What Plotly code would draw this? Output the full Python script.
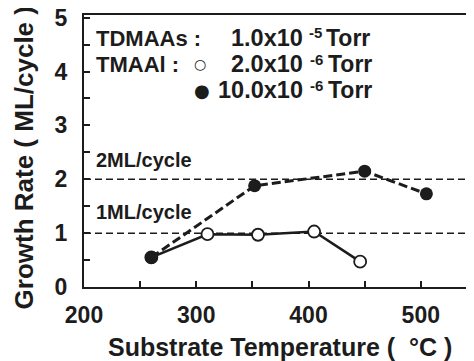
import plotly.graph_objects as go

# ---- data ----
temp_low = [260, 310, 355, 405, 446]          # TMAAl 2.0e-6 Torr (open circles)
rate_low = [0.55, 0.98, 0.97, 1.03, 0.47]
temp_high = [260, 352, 450, 505]              # TMAAl 10.0e-6 Torr (filled circles)
rate_high = [0.55, 1.88, 2.15, 1.73]
ref_levels = [1, 2]
ref_labels = ["1ML/cycle", "2ML/cycle"]
x_ticks = [200, 300, 400, 500]
y_ticks = [0, 1, 2, 3, 4, 5]

FONT = "Liberation Sans, Arial, sans-serif"
INK = "#1c1c1c"

OFF = 8  # page body offset in the screenshot
W, H = 474, 361
SL, ST, SB = 83.5, 15, 287.3           # plot edges in screenshot pixels
L, T = SL - OFF, ST - OFF
B = H - (SB - OFF)
R = 0
PW, PH = W - L - R, H - T - B
XSCALE = 112.4 / 100                    # px per degree


def px(sx):
    return (sx - SL) / PW


def py(sy):
    return (SB - sy) / PH


fig = go.Figure()

fig.add_trace(go.Scatter(
    x=temp_low, y=rate_low, mode="lines+markers",
    line=dict(color=INK, width=2.6),
    marker=dict(symbol="circle", size=12, color="white", line=dict(color=INK, width=1.8)),
    showlegend=False, cliponaxis=False))
fig.add_trace(go.Scatter(
    x=temp_high, y=rate_high, mode="lines+markers",
    line=dict(color=INK, width=3, dash="9px,4px"),
    marker=dict(symbol="circle", size=13, color=INK),
    showlegend=False, cliponaxis=False))

for lv in ref_levels:
    fig.add_hline(y=lv, line=dict(color=INK, width=1.5, dash="7px,4px"), layer="below")

ann = []


def add(text, x, y, size, anchor="left", family=FONT, angle=0):
    ann.append(dict(text=text, x=px(x), y=py(y), xref="paper", yref="paper",
                    xanchor=anchor, yanchor="middle", showarrow=False, textangle=angle,
                    font=dict(family=family, size=size, color=INK)))


def b(s):
    return "<b>" + s + "</b>"


# legend block
add(b("TDMAAs :"), 94, 38.5, 22)
add(b("1.0x10"), 305, 38.5, 23.5, "right")
add(b("-5"), 307, 33, 15)
add(b("Torr"), 324, 38.5, 23)
add(b("TMAAl :"), 94, 64.5, 22)
add("○", 200, 64.5, 14, "center", "DejaVu Sans")
add(b("2.0x10"), 305, 64.5, 23.5, "right")
add(b("-6"), 308, 60, 15)
add(b("Torr"), 326, 64.5, 23)
add("●", 202, 91, 18, "center", "DejaVu Sans")
add(b("10.0x10"), 305, 90.5, 23.5, "right")
add(b("-6"), 308, 86, 15)
add(b("Torr"), 326, 90.5, 23)

# reference labels
add(b(ref_labels[1]), 94, 160, 20)
add(b(ref_labels[0]), 94, 212.5, 20)

# axis titles
add(b("Substrate Temperature (  °C )"), 280, 347, 25, "center")
add(b("Growth Rate ( ML/cycle )"), 23, 158, 26, "center", angle=-90)

fig.update_layout(
    width=W, height=H,
    margin=dict(l=L, r=R, t=T, b=B, autoexpand=False),
    paper_bgcolor="white", plot_bgcolor="white",
    annotations=ann,
    xaxis=dict(range=[200, 200 + PW / XSCALE], tickvals=x_ticks,
               ticktext=[b(str(v)) for v in x_ticks],
               ticks="inside", ticklen=6, tickwidth=1.5, tickcolor=INK,
               minor=dict(dtick=50, ticks="inside", ticklen=6, tickwidth=1.5, tickcolor=INK),
               showline=True, linecolor=INK, linewidth=2, mirror=True,
               showgrid=False, zeroline=False,
               tickfont=dict(family=FONT, size=23, color=INK),
               ticklabelstandoff=6, ticklabeloverflow="allow"),
    yaxis=dict(range=[0, 5.05], tickvals=y_ticks,
               ticktext=[b(str(v)) for v in y_ticks],
               ticks="inside", ticklen=6, tickwidth=1.5, tickcolor=INK,
               minor=dict(dtick=0.5, ticks="inside", ticklen=6, tickwidth=1.5, tickcolor=INK),
               showline=True, linecolor=INK, linewidth=2,
               showgrid=False, zeroline=False,
               tickfont=dict(family=FONT, size=23, color=INK),
               ticklabelstandoff=10, ticklabeloverflow="allow"),
)

fig.write_html("out.html")
